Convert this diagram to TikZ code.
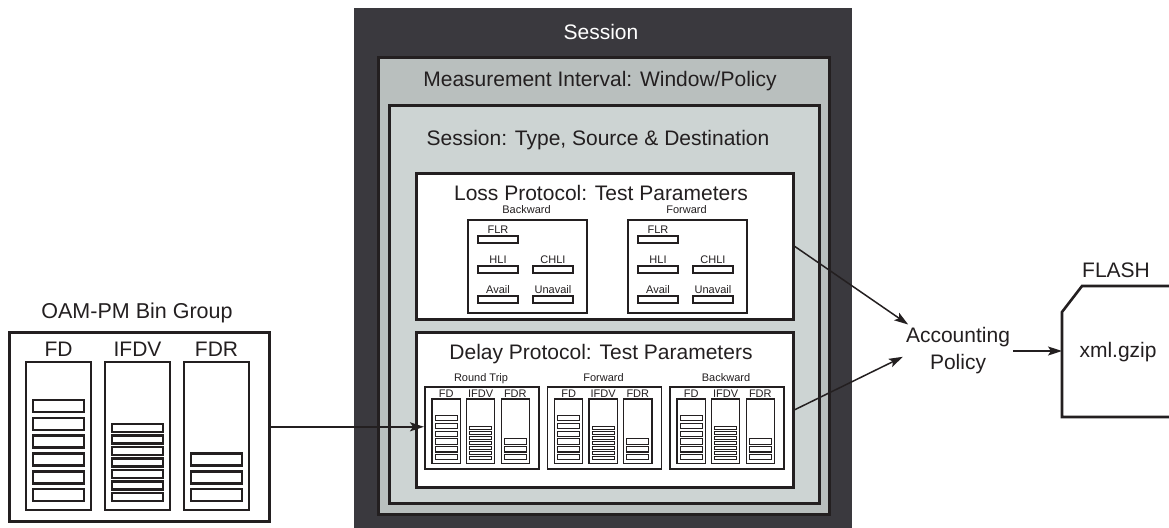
\documentclass[tikz,border=0pt]{standalone}
\usepackage{fontspec}
\setmainfont{Liberation Sans}
\usetikzlibrary{arrows.meta,positioning}
\definecolor{sessdark}{RGB}{58,57,62}
\definecolor{measgray}{RGB}{185,191,190}
\definecolor{typegray}{RGB}{205,212,211}
\definecolor{edge}{RGB}{35,31,32}
\tikzset{
  layer/.style={draw=edge, line width=2.6pt, inner sep=0pt, anchor=north west},
  panel/.style={draw=edge, fill=white, line width=2.6pt, inner sep=0pt, anchor=north west},
  subpanel/.style={draw=edge, fill=white, line width=1.8pt, inner sep=0pt, anchor=north west},
  bar/.style={draw=edge, fill=white},
  heading/.style={font=\fontsize{21}{27}\selectfont, text=edge, inner sep=0pt, anchor=base},
  mediumtxt/.style={font=\fontsize{21.5}{26}\selectfont, text=edge, inner sep=0pt, anchor=base},
  smalltxt/.style={font=\fontsize{11}{13}\selectfont, text=edge, inner sep=0pt, anchor=base},
  arrow/.style={-{Stealth[length=14pt,width=9pt,inset=3pt]}, line width=1.5pt, draw=edge},
  pics/bincols/.style={code={
    \foreach \cx/\nb/\bh/\gap in {0/6/12/17.8, 79/7/8/11.5, 158/3/12/17.8}{
      \draw[draw=edge, fill=white] (\cx,0) rectangle ++(65,148);
      \foreach \k in {1,...,\nb}
        \draw[bar] ({\cx+7},{139-\bh-(\k-1)*\gap}) rectangle ++(51,\bh);
    }
  }}
}

\begin{document}
\begin{tikzpicture}[x=1pt,y=-1pt]
  \useasboundingbox (0,0) rectangle (1169,527);
  % nested session layers
  \node[fill=sessdark, draw=sessdark, inner sep=0pt, anchor=north west, minimum width=497pt, minimum height=519pt] (session) at (354,8) {};
  \node[layer, fill=measgray, minimum width=451pt, minimum height=457pt] (meas) at (377,56) {};
  \node[layer, fill=typegray, minimum width=430pt, minimum height=398pt] (stype) at (388,104) {};
  \node[panel, minimum width=377pt, minimum height=146pt] (loss) at (415,172) {};
  \node[panel, minimum width=377pt, minimum height=155pt] (delay) at (415,331) {};
  \node[heading, text=white] (sesstitle) at (601,40) {Session};
  \node[heading] (meastitle) at (600,86) {Measurement Interval: Window/Policy};
  \node[heading] (typetitle) at (598,145) {Session: Type, Source \& Destination};
  \node[heading] (losstitle) at (601,200) {Loss Protocol: Test Parameters};
  \node[heading] (delaytitle) at (601,359) {Delay Protocol: Test Parameters};

  % loss counters
  \foreach \bx/\grp/\ttl in {467/lb/Backward, 627/lf/Forward}{
    \node[subpanel, minimum width=119pt, minimum height=93pt] (\grp) at (\bx,219) {};
    \node[smalltxt] (\grp-t) at ({\bx+59.5},213) {\ttl};
    \foreach \ox/\oy/\m in {31/233/FLR, 31/263/HLI, 86/263/CHLI, 31/293/Avail, 86/293/Unavail}{
      \node[smalltxt] (\grp-\m) at ({\bx+\ox},\oy) {\m};
      \draw[bar, line width=1.2pt] ({\bx+\ox-20},{\oy+3}) rectangle ++(40,7);
    }
  }

  % delay bins
  \foreach \bx/\grp/\ttl in {424/rt/Round Trip, 546.5/fw/Forward, 669/bw/Backward}{
    \node[subpanel, minimum width=114pt, minimum height=82pt] (\grp) at (\bx,386) {};
    \node[smalltxt] (\grp-t) at ({\bx+57},381) {\ttl};
    \pic[scale=0.437, line width=1.1pt] at ({\bx+8},399) {bincols};
    \foreach \c/\s in {14.2/FD, 48.7/IFDV, 83.3/FDR}
      \node[smalltxt] (\grp-\s) at ({\bx+8+\c},397) {\s};
  }

  % bin group
  \node[panel, minimum width=260pt, minimum height=189pt] (bingroup) at (8,331) {};
  \node[mediumtxt] (bintitle) at (137,318) {OAM-PM Bin Group};
  \pic[line width=2.6pt] at (26,362) {bincols};
  \foreach \c/\s in {32.5/FD, 111.5/IFDV, 190.5/FDR}
    \node[heading] (bin-\s) at ({26+\c},356) {\s};

  % accounting and flash
  \node[heading, align=center, anchor=center, inner sep=3pt] (acct) at (958,351) {Accounting\\Policy};
  \draw[edge, line width=2.6pt] (1175,286) -- (1082,286) -- (1062,312) -- (1062,417) -- (1175,417);
  \coordinate (flashin) at (1062,351);
  \node[heading] (flashtitle) at (1116,277) {FLASH};
  \node[heading] (xml) at (1118,357) {xml.gzip};

  \draw[arrow] (bingroup.east) -- (bingroup.east -| rt.west);
  \draw[arrow] (loss.east) -- (acct.152);
  \draw[arrow] (delay.east) -- (acct.186);
  \draw[arrow] (acct) -- (flashin);
\end{tikzpicture}
\end{document}
